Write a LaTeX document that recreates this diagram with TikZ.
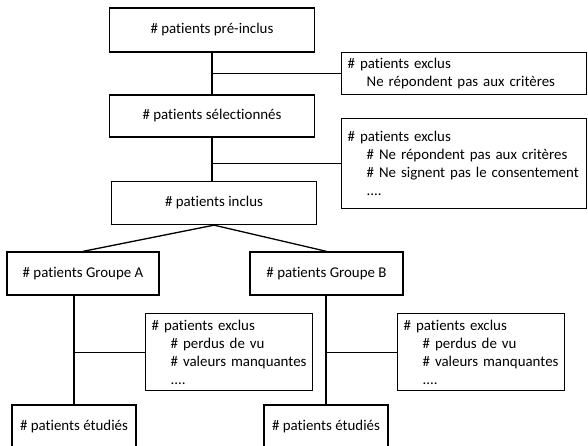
\documentclass[tikz,border=0pt]{standalone}
\usepackage{fontspec}
\setmainfont{Carlito}[Ligatures=NoCommon]
\usepackage{tikz}
\usetikzlibrary{positioning}
\tikzstyle{box} = [rectangle, draw=black, line width=1.3pt, minimum height=43pt, text centered, inner sep=0pt]
\tikzstyle{excl} = [rectangle, draw=black, line width=1.3pt, align=left, inner xsep=6pt, inner ysep=0pt, anchor=north west]
\tikzstyle{line} = [line width=1.3pt]
\newcommand{\ind}{\hspace*{19pt}}

\begin{document}
\begin{tikzpicture}[x=1pt, y=-1pt, font=\fontsize{14.9}{18}\selectfont]
\useasboundingbox (0,0) rectangle (588,446);
\clip (0,0) rectangle (588,446);
% main flow
\node (1) [box, minimum width=205pt, minimum height=44pt] at (212,30) {\# patients pré-inclus};
\node (2) [box, minimum width=205pt, minimum height=42pt] at (212,116) {\# patients sélectionnés};
\node (3) [box, minimum width=205pt] at (214,203) {\# patients inclus};
\node (4) [box, minimum width=152pt] at (83,273.5) {\# patients Groupe A};
\node (5) [box, minimum width=153pt] at (326.5,273.5) {\# patients Groupe B};
\node (6) [box, minimum width=124pt, minimum height=44pt] at (74,427) {\# patients étudiés};
\node (7) [box, minimum width=124pt, minimum height=44pt] at (326,427) {\# patients étudiés};
% exclusions
\node (8) [excl, text width=233pt, minimum height=42pt] at (341,52) {\# patients exclus\\\ind Ne répondent pas aux critères};
\node (9) [excl, text width=233pt, minimum height=90pt] at (341,118) {\# patients exclus\\\ind\# Ne répondent pas aux critères\\\ind\# Ne signent pas le consentement\\\ind....};
\node (10) [excl, text width=155pt, minimum height=77pt] at (145,313) {\# patients exclus\\\ind\# perdus de vu\\\ind\# valeurs manquantes\\\ind....};
\node (11) [excl, text width=155pt, minimum height=77pt] at (397,313) {\# patients exclus\\\ind\# perdus de vu\\\ind\# valeurs manquantes\\\ind....};
% connectors
\draw [line] (1.south -| 2.north) -- (2.north);
\draw [line] (2.south) -- (2.south |- 3.north);
\draw [line] (8.west) -- (8.west -| 1.south);
\draw [line] (9.west) -- (9.west -| 2.south);
\draw [line] (3.south) -- (4.north);
\draw [line] (3.south) -- (5.north);
\draw [line] (4.south -| 6.north) -- (6.north);
\draw [line] (5.south -| 7.north) -- (7.north);
\draw [line] (10.west) -- (10.west -| 6.north);
\draw [line] (11.west) -- (11.west -| 7.north);
\end{tikzpicture}
\end{document}
